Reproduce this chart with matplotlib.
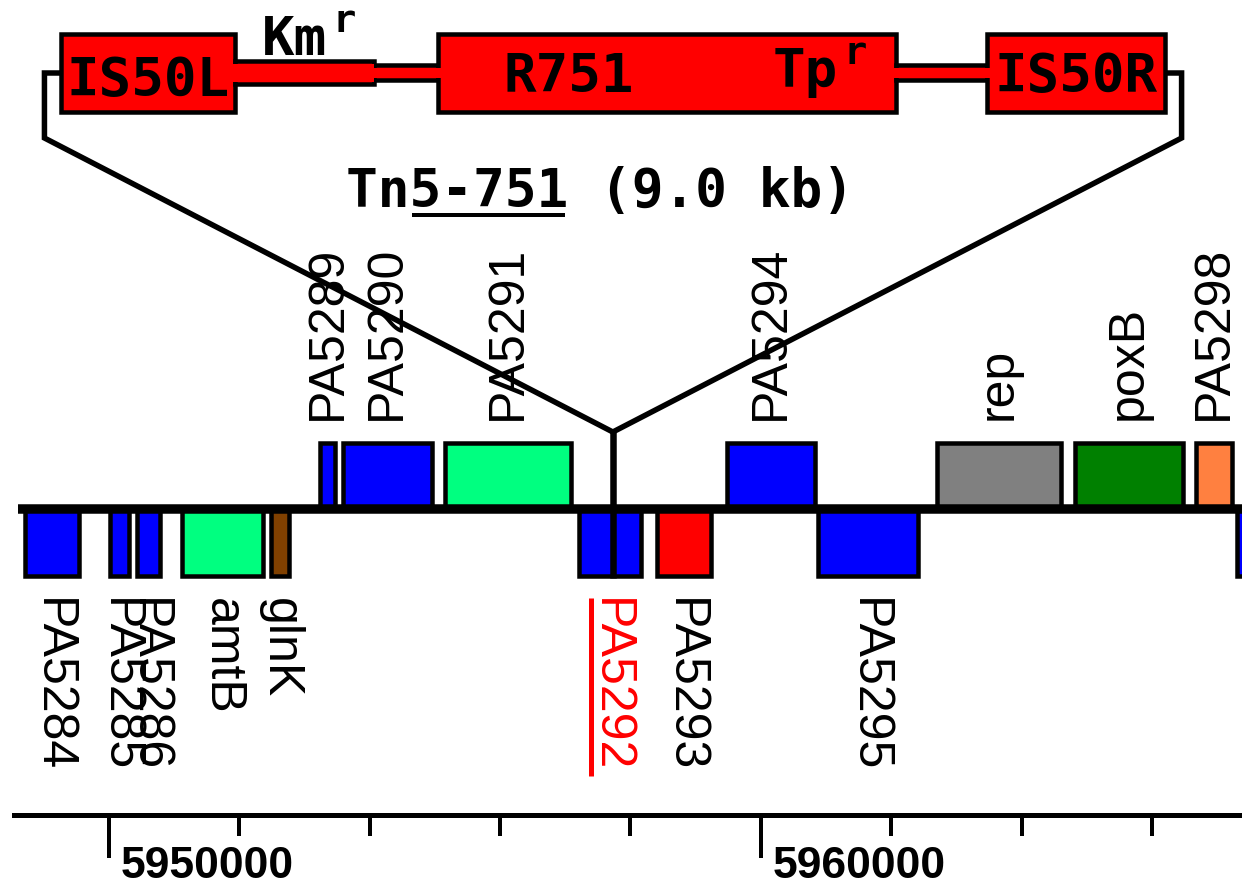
import matplotlib
matplotlib.use('Agg')
import matplotlib.pyplot as plt
from matplotlib.patches import Rectangle
from matplotlib.ticker import MultipleLocator, NullFormatter
import numpy as np

# ---------------- data ----------------
# genes on the forward strand (drawn above the chromosome line)
upper_names = ['PA5289', 'PA5290', 'PA5291', 'PA5294', 'rep', 'poxB', 'PA5298']
upper_start = [5953240, 5953590, 5955150, 5959480, 5962700, 5964815, 5966670]
upper_end = [5953470, 5954950, 5957085, 5960830, 5964600, 5966470, 5967225]
upper_colors = ['#0000FF', '#0000FF', '#00FF80', '#0000FF', '#808080', '#008000', '#FF8040']

# genes on the reverse strand (drawn below the chromosome line)
lower_names = ['PA5284', 'PA5285', 'PA5286', 'amtB', 'glnK', 'PA5292', 'PA5293', 'PA5295', '']
lower_start = [5948710, 5950015, 5950430, 5951120, 5952485, 5957210, 5958405, 5960875, 5967310]
lower_end = [5949540, 5950305, 5950780, 5952360, 5952760, 5958160, 5959235, 5962410, 5967700]
lower_colors = ['#0000FF', '#0000FF', '#0000FF', '#00FF80', '#804000', '#0000FF', '#FF0000', '#0000FF', '#0000FF']

highlight_gene = 'PA5292'
insertion_site = 5957730

view_start, view_end = 5948330, 5967380
chromosome_start = 5948600
ruler_start = 5948545
ruler_major = 10000
ruler_minor = 2000

# transposon construct (kb)
construct_parts = ['IS50L', 'Km', 'link1', 'R751', 'link2', 'IS50R']
construct_kb = [1.42, 1.13, 0.52, 3.74, 0.74, 1.45]
construct_kind = ['box', 'bar', 'link', 'box', 'link', 'box']
construct_title = 'Tn5-751 (9.0 kb)'

# ---------------- layout ----------------
W, H = 1242, 888
PX = 0.72  # points per pixel at dpi 100
Y_BACK = 508.5
Y_UP_TOP = 443
Y_LOW_BOT = 576
Y_APEX = 432
Y_BEND = 138
Y_CON = 73
HALF = {'box': 39, 'bar': 11.5, 'link': 7.5}
KB_PX = 122.67
C_LEFT_PX = 61

LABEL_FONT = dict(family='Liberation Sans', size=36)
BIG_FONT = dict(family='DejaVu Sans Mono', weight='bold', size=39)

fig = plt.figure(figsize=(W / 100, H / 100), dpi=100)
fig.patch.set_facecolor('white')

# genome axes (x in bp, y in pixel rows)
ax = fig.add_axes([0, 0, 1, 1])
ax.set_xlim(view_start, view_end)
ax.set_ylim(H, 0)
ax.axis('off')

# construct axes (x in kb of the transposon)
axc = fig.add_axes([0, 0, 1, 1])
axc.set_xlim(-C_LEFT_PX / KB_PX, (W - C_LEFT_PX) / KB_PX)
axc.set_ylim(H, 0)
axc.axis('off')
axc.patch.set_alpha(0)

# ---- genes ----
for s, e, c in zip(upper_start, upper_end, upper_colors):
    ax.add_patch(Rectangle((s, Y_UP_TOP), e - s, Y_BACK - Y_UP_TOP, fc=c, ec='black',
                           lw=4.5 * PX, joinstyle='miter', zorder=2))
for s, e, c in zip(lower_start, lower_end, lower_colors):
    ax.add_patch(Rectangle((s, Y_BACK), e - s, Y_LOW_BOT - Y_BACK, fc=c, ec='black',
                           lw=4.5 * PX, joinstyle='miter', zorder=2))

# chromosome line
ax.plot([chromosome_start, view_end], [Y_BACK, Y_BACK], color='black', lw=9.5 * PX,
        solid_capstyle='butt', zorder=3)

# gene labels
label_objs = {}
for n, s, e in zip(upper_names, upper_start, upper_end):
    ax.text((s + e) / 2, 420, n, rotation=90, ha='center', va='bottom', color='black',
            zorder=4, **LABEL_FONT)
for n, s, e in zip(lower_names, lower_start, lower_end):
    if not n:
        continue
    col = '#FF0000' if n == highlight_gene else 'black'
    label_objs[n] = ax.text((s + e) / 2, 598, n, rotation=-90, ha='center', va='top',
                            color=col, zorder=4, **LABEL_FONT)

# ---- construct ----
edges = np.concatenate([[0], np.cumsum(construct_kb)])
ext = 3 / KB_PX
inset = 2.6
for i, kind in enumerate(construct_kind):
    a, b = edges[i], edges[i + 1]
    h = HALF[kind]
    axc.add_patch(Rectangle((a, Y_CON - h), b - a, 2 * h, fc='#FF0000', ec='black',
                            lw=4.5 * PX, joinstyle='miter', zorder=2))
for i, kind in enumerate(construct_kind):
    a, b = edges[i], edges[i + 1]
    h = HALF[kind]
    if kind == 'bar':
        axc.add_patch(Rectangle((a - ext, Y_CON - h + inset), b - a + ext, 2 * (h - inset),
                                fc='#FF0000', ec='none', zorder=3))
    elif kind == 'link':
        axc.add_patch(Rectangle((a - ext, Y_CON - h + inset), b - a + 2 * ext, 2 * (h - inset),
                                fc='#FF0000', ec='none', zorder=3))

# labels in the construct
axc.text((edges[0] + edges[1]) / 2, 96, 'IS50L', ha='center', va='baseline', zorder=5, **BIG_FONT)
axc.text((edges[5] + edges[6]) / 2, 92, 'IS50R', ha='center', va='baseline', zorder=5, **BIG_FONT)
axc.text(edges[3] + 0.54, 92, 'R751', ha='left', va='baseline', zorder=5, **BIG_FONT)
km = axc.text(edges[1] + 0.22, 55, 'Km', ha='left', va='baseline', zorder=5, **BIG_FONT)
tp = axc.text(edges[4] - 0.48, 87, 'Tp', ha='right', va='baseline', zorder=5, **BIG_FONT)
for t in (km, tp):
    axc.annotate('r', xy=(1, 1), xycoords=t, xytext=(4, 9), textcoords='offset points',
                 ha='left', va='top', family='DejaVu Sans Mono', weight='bold', size=28, zorder=5)

title = axc.text(4.39, 207, construct_title, ha='center', va='baseline', zorder=5,
                 family='DejaVu Sans Mono', weight='bold', size=38)

# connectors from construct to the insertion site
apex_disp = ax.transData.transform((insertion_site, Y_APEX))
apex_x = axc.transData.inverted().transform(apex_disp)[0]
out = 0.135
total = edges[-1]
axc.plot([edges[0], -out, -out, apex_x, total + out, total + out, total],
         [Y_CON, Y_CON, Y_BEND, Y_APEX, Y_BEND, Y_CON, Y_CON],
         color='black', lw=5.5 * PX, solid_joinstyle='miter', solid_capstyle='butt', zorder=1)
axc.plot([apex_x, apex_x], [Y_APEX, Y_LOW_BOT + 2], color='black', lw=6.5 * PX,
         solid_capstyle='butt', zorder=1)

# ---- ruler ----
axr = fig.add_axes([0, (H - 814.5) / H, 1, 0.01])
axr.set_xlim(view_start, view_end)
axr.patch.set_alpha(0)
for sp in ('top', 'left', 'right'):
    axr.spines[sp].set_visible(False)
axr.spines['bottom'].set_linewidth(5 * PX)
axr.spines['bottom'].set_bounds(ruler_start, view_end)
axr.set_yticks([])
axr.xaxis.set_major_locator(MultipleLocator(ruler_major))
axr.xaxis.set_minor_locator(MultipleLocator(ruler_minor))
axr.xaxis.set_major_formatter(NullFormatter())
axr.tick_params(axis='x', which='major', direction='out', length=42.5 * PX, width=4 * PX,
                labelbottom=False)
axr.tick_params(axis='x', which='minor', direction='out', length=20.5 * PX, width=4 * PX)
for t in axr.xaxis.get_majorticklocs():
    if view_start <= t <= view_end:
        axr.annotate(f'{int(t)}', xy=(t, 0), xycoords=('data', 'axes fraction'),
                     xytext=(8.6, -22.5), textcoords='offset points', ha='left', va='top',
                     family='Liberation Sans', weight='bold', size=32)

# ---- underlines (need text extents) ----
fig.canvas.draw()
r = fig.canvas.get_renderer()
bb = title.get_window_extent(r)
cw = bb.width / len(construct_title)
x_a = bb.x0 + 2 * cw + 3
x_b = bb.x0 + 7 * cw - 3
inv = axc.transData.inverted()
y_ul = axc.transData.transform((0, 215))[1]
p0 = inv.transform((x_a, y_ul))
p1 = inv.transform((x_b, y_ul))
axc.plot([p0[0], p1[0]], [215, 215], color='black', lw=4 * PX, solid_capstyle='butt')

lb = label_objs[highlight_gene].get_window_extent(r)
inv2 = ax.transData.inverted()
q0 = inv2.transform((lb.x0 + 4, lb.y1))
q1 = inv2.transform((lb.x0 + 4, lb.y0 - 4))
ax.plot([q0[0], q1[0]], [q0[1], q1[1]], color='#FF0000', lw=5 * PX, solid_capstyle='butt', zorder=4)

fig.savefig('out.png', dpi=100, facecolor='white')
